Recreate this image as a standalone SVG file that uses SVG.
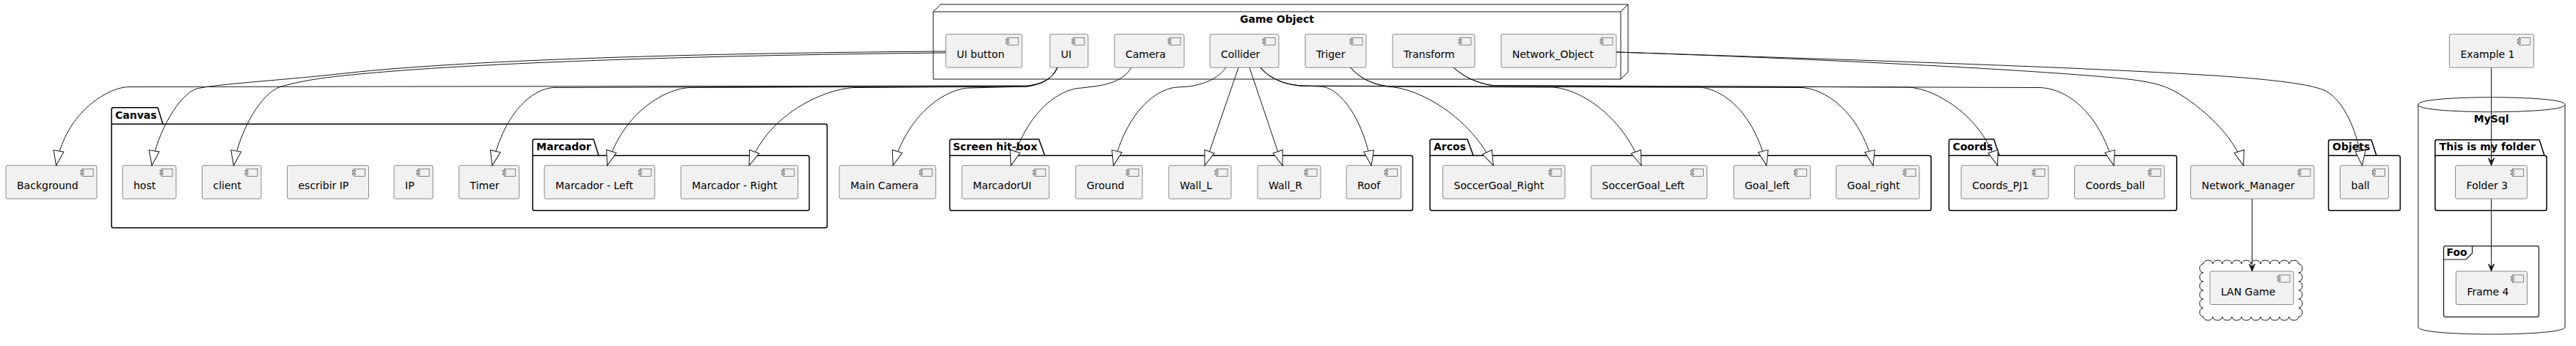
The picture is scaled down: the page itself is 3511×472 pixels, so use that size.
<svg xmlns="http://www.w3.org/2000/svg" width="3511" height="472" viewBox="0 0 3511 472">
<style>
text{font-family:"DejaVu Sans","Liberation Sans",sans-serif;font-size:14px;fill:#000}
.t{font-weight:bold}
.c rect.b{fill:#F1F1F1;stroke:#181818;stroke-width:0.5}
.pk{fill:none;stroke:#000;stroke-width:1.5}
.sh{fill:none;stroke:#181818;stroke-width:1}
.e{fill:none;stroke:#181818;stroke-width:1}
.g{marker-end:url(#gen)}
.a{marker-end:url(#arr)}
</style>
<defs>
<g id="ic"><rect x="0" y="0" width="15" height="10" fill="#F1F1F1" stroke="#181818" stroke-width="0.5"/><rect x="-2" y="2" width="4" height="2" fill="#F1F1F1" stroke="#181818" stroke-width="0.5"/><rect x="-2" y="6" width="4" height="2" fill="#F1F1F1" stroke="#181818" stroke-width="0.5"/></g>
<marker id="gen" viewBox="-22 -9 24 18" refX="0" refY="0" markerWidth="24" markerHeight="18" orient="auto" markerUnits="userSpaceOnUse"><path d="M0,0 L-20,-7 L-20,7 Z" fill="#fff" stroke="#181818" stroke-width="1"/></marker>
<marker id="arr" viewBox="-12 -6 14 12" refX="0" refY="0" markerWidth="14" markerHeight="12" orient="auto" markerUnits="userSpaceOnUse"><path d="M0,0 L-10,-4 L-6,0 L-10,4 Z" fill="#181818" stroke="#181818" stroke-width="1"/></marker>
</defs>
<rect width="3511" height="472" fill="#fff"/>

<g id="game-object">
<path class="sh" d="M1272,16 L1282,6 L2219,6 L2219,98 L2209,108 L1272,108 Z M1272,16 L2209,16 L2219,6 M2209,16 L2209,108"/>
<text class="t" x="1740.5" y="31" text-anchor="middle">Game Object</text>
</g>

<g id="pkg-canvas"><path class="pk" d="M152,149.2 Q152,146.7 154.5,146.7 L215,146.7 L222,169.3 L1124.9,169.3 Q1127.4,169.3 1127.4,171.8 L1127.4,308.2 Q1127.4,310.7 1124.9,310.7 L154.5,310.7 Q152,310.7 152,308.2 Z M152,169.3 L222,169.3"/><text class="t" x="157" y="161.5">Canvas</text></g>
<g id="pkg-marcador"><path class="pk" d="M726,192.5 Q726,190 728.5,190 L809,190 L816,212.3 L1100.5,212.3 Q1103,212.3 1103,214.8 L1103,284.8 Q1103,287.3 1100.5,287.3 L728.5,287.3 Q726,287.3 726,284.8 Z M726,212.3 L816,212.3"/><text class="t" x="731" y="204.5">Marcador</text></g>
<g id="pkg-screen"><path class="pk" d="M1294.5,192.5 Q1294.5,190 1297,190 L1416,190 L1424,212.3 L1923,212.3 Q1925.5,212.3 1925.5,214.8 L1925.5,284.8 Q1925.5,287.3 1923,287.3 L1297,287.3 Q1294.5,287.3 1294.5,284.8 Z M1294.5,212.3 L1424,212.3"/><text class="t" x="1298.7" y="204.5">Screen hit-box</text></g>
<g id="pkg-arcos"><path class="pk" d="M1949,192.5 Q1949,190 1951.5,190 L2000,190 L2008,212.3 L2629.5,212.3 Q2632,212.3 2632,214.8 L2632,284.8 Q2632,287.3 2629.5,287.3 L1951.5,287.3 Q1949,287.3 1949,284.8 Z M1949,212.3 L2008,212.3"/><text class="t" x="1954" y="204.5">Arcos</text></g>
<g id="pkg-coords"><path class="pk" d="M2656.4,192.5 Q2656.4,190 2658.9,190 L2717.6,190 L2725,212.3 L2964.2,212.3 Q2966.7,212.3 2966.7,214.8 L2966.7,284.8 Q2966.7,287.3 2964.2,287.3 L2658.9,287.3 Q2656.4,287.3 2656.4,284.8 Z M2656.4,212.3 L2725,212.3"/><text class="t" x="2661.4" y="204.5">Coords</text></g>
<g id="pkg-objets"><path class="pk" d="M3173.6,193.2 Q3173.6,190.7 3176.1,190.7 L3232,190.7 L3239,212.3 L3268.9,212.3 Q3271.4,212.3 3271.4,214.8 L3271.4,284.8 Q3271.4,287.3 3268.9,287.3 L3176.1,287.3 Q3173.6,287.3 3173.6,284.8 Z M3173.6,212.3 L3239,212.3"/><text class="t" x="3179" y="205">Objets</text></g>

<g id="db-mysql">
<path class="sh" d="M3296,142.7 C3296,132.7 3396,132.7 3396,132.7 C3396,132.7 3496,132.7 3496,142.7 L3496,446 C3496,456 3396,456 3396,456 C3396,456 3296,456 3296,446 Z"/>
<path class="sh" d="M3296,142.7 C3296,152.7 3396,152.7 3396,152.7 C3396,152.7 3496,152.7 3496,142.7"/>
<text class="t" x="3395.7" y="167" text-anchor="middle">MySql</text>
</g>
<g id="pkg-folder"><path class="pk" d="M3319,193.2 Q3319,190.7 3321.5,190.7 L3461,190.7 L3468,212.3 L3468.5,212.3 Q3471,212.3 3471,214.8 L3471,284.8 Q3471,287.3 3468.5,287.3 L3321.5,287.3 Q3319,287.3 3319,284.8 Z M3319,212.3 L3468,212.3"/><text class="t" x="3324.8" y="205">This is my folder</text></g>
<g id="frame-foo"><rect class="sh" x="3330.6" y="335.7" width="129.8" height="96.6" rx="2.5" style="stroke-width:1.2"/><path class="sh" d="M3330.6,354 L3361,354 L3369.6,345.5 L3369.6,335.7" style="stroke-width:1.2"/><text class="t" x="3334.5" y="348.5">Foo</text></g>
<g id="cloud-lan"><path class="sh" d="M3003,360 a6.5,5 0 0 1 13,0 a6.5,5 0 0 1 13,0 a6.5,5 0 0 1 13,0 a6.5,5 0 0 1 13,0 a6.5,5 0 0 1 13,0 a6.5,5 0 0 1 13,0 a6.5,5 0 0 1 13,0 a6.5,5 0 0 1 13,0 a6.5,5 0 0 1 13,0 a6.5,5 0 0 1 13,0 a5,6 0 0 1 0,12 a5,6 0 0 1 0,12 a5,6 0 0 1 0,12 a5,6 0 0 1 0,12 a5,6 0 0 1 0,12 a5,6 0 0 1 0,12 a6.5,5 0 0 1 -13,0 a6.5,5 0 0 1 -13,0 a6.5,5 0 0 1 -13,0 a6.5,5 0 0 1 -13,0 a6.5,5 0 0 1 -13,0 a6.5,5 0 0 1 -13,0 a6.5,5 0 0 1 -13,0 a6.5,5 0 0 1 -13,0 a6.5,5 0 0 1 -13,0 a6.5,5 0 0 1 -13,0 a5,6 0 0 1 0,-12 a5,6 0 0 1 0,-12 a5,6 0 0 1 0,-12 a5,6 0 0 1 0,-12 a5,6 0 0 1 0,-12 a5,6 0 0 1 0,-12 Z"/></g>

<g id="c-uibutton" class="c"><rect class="b" x="1289" y="46.7" width="104" height="45.5" rx="2.5"/><use href="#ic" x="1373" y="51.7"/><text x="1304" y="79.2">UI button</text></g>
<g id="c-ui" class="c"><rect class="b" x="1431" y="46.7" width="52" height="45.5" rx="2.5"/><use href="#ic" x="1463" y="51.7"/><text x="1446" y="79.2">UI</text></g>
<g id="c-camera" class="c"><rect class="b" x="1519" y="46.7" width="95" height="45.5" rx="2.5"/><use href="#ic" x="1594" y="51.7"/><text x="1534" y="79.2">Camera</text></g>
<g id="c-collider" class="c"><rect class="b" x="1649" y="46.7" width="94" height="45.5" rx="2.5"/><use href="#ic" x="1723" y="51.7"/><text x="1664" y="79.2">Collider</text></g>
<g id="c-triger" class="c"><rect class="b" x="1779" y="46.7" width="83" height="45.5" rx="2.5"/><use href="#ic" x="1842" y="51.7"/><text x="1794" y="79.2">Triger</text></g>
<g id="c-transform" class="c"><rect class="b" x="1898" y="46.7" width="112" height="45.5" rx="2.5"/><use href="#ic" x="1990" y="51.7"/><text x="1913" y="79.2">Transform</text></g>
<g id="c-networkobject" class="c"><rect class="b" x="2046" y="46.7" width="157" height="45.5" rx="2.5"/><use href="#ic" x="2183" y="51.7"/><text x="2061" y="79.2">Network_Object</text></g>

<g id="c-background" class="c"><rect class="b" x="8" y="225.7" width="124" height="45.5" rx="2.5"/><use href="#ic" x="112" y="230.7"/><text x="23" y="258.2">Background</text></g>
<g id="c-host" class="c"><rect class="b" x="167" y="225.7" width="73" height="45.5" rx="2.5"/><use href="#ic" x="220" y="230.7"/><text x="182" y="258.2">host</text></g>
<g id="c-client" class="c"><rect class="b" x="275.5" y="225.7" width="80.5" height="45.5" rx="2.5"/><use href="#ic" x="336" y="230.7"/><text x="290.5" y="258.2">client</text></g>
<g id="c-escribirip" class="c"><rect class="b" x="391.5" y="225.7" width="111" height="45.5" rx="2.5"/><use href="#ic" x="482.5" y="230.7"/><text x="406.5" y="258.2">escribir IP</text></g>
<g id="c-ip" class="c"><rect class="b" x="537" y="225.7" width="53" height="45.5" rx="2.5"/><use href="#ic" x="570" y="230.7"/><text x="552" y="258.2">IP</text></g>
<g id="c-timer" class="c"><rect class="b" x="625.6" y="225.7" width="82" height="45.5" rx="2.5"/><use href="#ic" x="687.6" y="230.7"/><text x="640.6" y="258.2">Timer</text></g>
<g id="c-marcadorleft" class="c"><rect class="b" x="742" y="225.7" width="150.4" height="45.5" rx="2.5"/><use href="#ic" x="872.4" y="230.7"/><text x="757" y="258.2">Marcador - Left</text></g>
<g id="c-marcadorright" class="c"><rect class="b" x="928" y="225.7" width="159.6" height="45.5" rx="2.5"/><use href="#ic" x="1067.6" y="230.7"/><text x="943" y="258.2">Marcador - Right</text></g>
<g id="c-maincamera" class="c"><rect class="b" x="1144" y="225.7" width="131.4" height="45.5" rx="2.5"/><use href="#ic" x="1255.4" y="230.7"/><text x="1159" y="258.2">Main Camera</text></g>
<g id="c-marcadorui" class="c"><rect class="b" x="1311" y="225.7" width="119" height="45.5" rx="2.5"/><use href="#ic" x="1410" y="230.7"/><text x="1326" y="258.2">MarcadorUI</text></g>
<g id="c-ground" class="c"><rect class="b" x="1466" y="225.7" width="91" height="45.5" rx="2.5"/><use href="#ic" x="1537" y="230.7"/><text x="1481" y="258.2">Ground</text></g>
<g id="c-wall_l" class="c"><rect class="b" x="1593" y="225.7" width="85" height="45.5" rx="2.5"/><use href="#ic" x="1658" y="230.7"/><text x="1608" y="258.2">Wall_L</text></g>
<g id="c-wall_r" class="c"><rect class="b" x="1714" y="225.7" width="86" height="45.5" rx="2.5"/><use href="#ic" x="1780" y="230.7"/><text x="1729" y="258.2">Wall_R</text></g>
<g id="c-roof" class="c"><rect class="b" x="1835" y="225.7" width="74.5" height="45.5" rx="2.5"/><use href="#ic" x="1889.5" y="230.7"/><text x="1850" y="258.2">Roof</text></g>
<g id="c-soccergoalright" class="c"><rect class="b" x="1966.5" y="225.7" width="166.5" height="45.5" rx="2.5"/><use href="#ic" x="2113" y="230.7"/><text x="1981.5" y="258.2">SoccerGoal_Right</text></g>
<g id="c-soccergoalleft" class="c"><rect class="b" x="2168.6" y="225.7" width="158" height="45.5" rx="2.5"/><use href="#ic" x="2306.6" y="230.7"/><text x="2183.6" y="258.2">SoccerGoal_Left</text></g>
<g id="c-goalleft" class="c"><rect class="b" x="2363" y="225.7" width="104.4" height="45.5" rx="2.5"/><use href="#ic" x="2447.4" y="230.7"/><text x="2378" y="258.2">Goal_left</text></g>
<g id="c-goalright" class="c"><rect class="b" x="2502.6" y="225.7" width="113.4" height="45.5" rx="2.5"/><use href="#ic" x="2596" y="230.7"/><text x="2517.6" y="258.2">Goal_right</text></g>
<g id="c-coordspj1" class="c"><rect class="b" x="2673" y="225.7" width="119" height="45.5" rx="2.5"/><use href="#ic" x="2772" y="230.7"/><text x="2688" y="258.2">Coords_PJ1</text></g>
<g id="c-coordsball" class="c"><rect class="b" x="2827.5" y="225.7" width="122.5" height="45.5" rx="2.5"/><use href="#ic" x="2930" y="230.7"/><text x="2842.5" y="258.2">Coords_ball</text></g>
<g id="c-networkmanager" class="c"><rect class="b" x="2985.7" y="225.7" width="168.3" height="45.5" rx="2.5"/><use href="#ic" x="3134" y="230.7"/><text x="3000.7" y="258.2">Network_Manager</text></g>
<g id="c-ball" class="c"><rect class="b" x="3189.5" y="225.7" width="66" height="45.5" rx="2.5"/><use href="#ic" x="3235.5" y="230.7"/><text x="3204.5" y="258.2">ball</text></g>
<g id="c-folder3" class="c"><rect class="b" x="3346.6" y="225.7" width="97.8" height="45.5" rx="2.5"/><use href="#ic" x="3424.4" y="230.7"/><text x="3361.6" y="258.2">Folder 3</text></g>
<g id="c-example1" class="c"><rect class="b" x="3338.4" y="46.7" width="115" height="45.5" rx="2.5"/><use href="#ic" x="3433.4" y="51.7"/><text x="3353.4" y="79.2">Example 1</text></g>
<g id="c-langame" class="c"><rect class="b" x="3012" y="370" width="114" height="45.5" rx="2.5"/><use href="#ic" x="3106" y="375"/><text x="3027" y="402.5">LAN Game</text></g>
<g id="c-frame4" class="c"><rect class="b" x="3347.4" y="370" width="97" height="45.5" rx="2.5"/><use href="#ic" x="3424.4" y="375"/><text x="3362.4" y="402.5">Frame 4</text></g>

<g id="connectors">
<path class="e g" d="M1289,70 C1000,72 650,80 470,100 C380,110 300,114 268,121 C245,128 214,180 207,225.7"/>
<path class="e g" d="M1289,72 C1000,75 650,84 470,103 C430,107 405,112 383,118 C355,127 326,180 318.4,225.7"/>
<path class="e g" d="M1441,92.2 C1436,104 1426,114 1400,117 L175,118.5 C150,119 90,150 76.5,225.7"/>
<path class="e g" d="M1441,92.2 C1436,104 1426,114 1400,117.5 L755,119.5 C728,120.5 688,150 670.8,225.7"/>
<path class="e g" d="M1441,92.2 C1436,104 1426,114 1400,117.5 L940,119.5 C910,120.5 850,150 827.7,225.7"/>
<path class="e g" d="M1441,92.2 C1436,104 1426,114 1400,118 L1165,119.5 C1130,120.5 1050,150 1021,225.7"/>
<path class="e g" d="M1441,92.2 C1436,104 1426,114 1400,118 L1321,120 C1292,121 1240,150 1217.2,225.7"/>
<path class="e g" d="M1541.8,92.2 C1535,105 1518,115 1490,118 L1474,120 C1445,121 1400,150 1378,225.7"/>
<path class="e g" d="M1671,92.2 C1662,104 1648,114 1620,118 L1605,119 C1578,120 1536,150 1517.6,225.7"/>
<path class="e g" d="M1688,92.2 L1642,225.7"/>
<path class="e g" d="M1703,92.2 L1748,225.7"/>
<path class="e g" d="M1718,92.2 C1728,104 1745,115 1775,117 L1800,118 C1825,119 1858,160 1869,225.7"/>
<path class="e g" d="M1718,92.2 C1728,104 1745,115 1775,117 L2315,119 C2345,120 2390,150 2407.7,225.7"/>
<path class="e g" d="M1718,92.2 C1728,104 1745,115 1775,117.5 L2455,119.5 C2485,120.5 2535,150 2553,225.7"/>
<path class="e g" d="M1840.6,92.2 C1852,104 1866,115 1895,118.5 C1935,121 2005,160 2035.4,225.7"/>
<path class="e g" d="M1840.6,92.2 C1852,104 1866,115 1895,118 L2115,119 C2150,120 2210,155 2237,225.7"/>
<path class="e g" d="M1981,92.2 C1995,104 2010,113 2035,116.5 L2600,119 C2635,120 2700,155 2722.6,225.7"/>
<path class="e g" d="M1981,92.2 C1995,104 2010,113 2035,117 L2780,119.5 C2815,120.5 2860,150 2881,225.7"/>
<path class="e g" d="M2203,71 C2500,81 2800,97 2900,108 C2935,112 2950,117 2965,125 C3000,145 3045,185 3057.8,225.7"/>
<path class="e g" d="M2203,71 C2500,81 2800,90 3000,102 C3100,108 3150,115 3170,124 C3195,138 3214,180 3219.6,225.7"/>
<path class="e a" d="M3069.5,271.2 L3069.5,370"/>
<path class="e a" d="M3395.5,92.2 L3395.5,225.7"/>
<path class="e a" d="M3395.5,271.2 L3395.5,370"/>
</g>
</svg>
